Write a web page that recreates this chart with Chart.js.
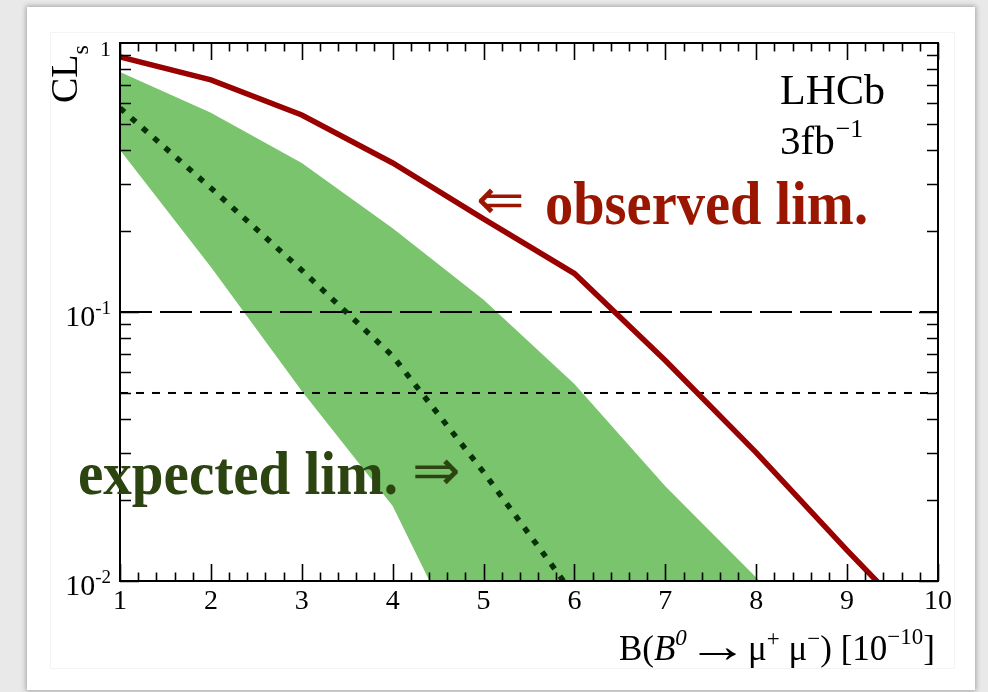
<!DOCTYPE html>
<html>
<head>
<meta charset="utf-8">
<script src="https://cdn.jsdelivr.net/npm/chart.js@4.4.1/dist/chart.umd.min.js"></script>
<style>
	html, body { margin: 0; padding: 0; }
	body { width: 988px; height: 692px; background: #e9e9e9; position: relative; overflow: hidden; }
	#card { position: absolute; left: 27px; top: 7px; width: 948px; height: 683px; background: #fff; box-shadow: 0 0 5px 1px rgba(0, 0, 0, 0.3); }
	#inner { position: absolute; left: 50px; top: 32px; width: 903px; height: 635px; border: 1px solid #f4f4f4; }
	#wrap { position: absolute; left: 0; top: 0; width: 988px; height: 692px; }
</style>
</head>
<body>
<div id="card"></div>
<div id="inner"></div>
<div id="wrap"><canvas id="myChart"></canvas></div>
<script>
// values
const xValues = [1, 2, 3, 4, 5, 6, 7, 8, 9, 10];
const observed = [0.887, 0.729, 0.54, 0.358, 0.222, 0.139, 0.066, 0.030, 0.013, 0.0058];
const expected = [0.573, 0.289, 0.143, 0.0686, 0.0254, 0.0088];
const bandUpper = [0.78, 0.55, 0.358, 0.205, 0.111, 0.054, 0.0225, 0.0103, 0.004];
const bandLower = [0.40, 0.147, 0.0508, 0.019, 0.0039, 0.0015, 0.0006, 0.0003, 0.0001];
const limitLevels = [0.1, 0.05];

const xTickLabels = ["1", "2", "3", "4", "5", "6", "7", "8", "9", "10"];
const yTickValues = [1, 0.1, 0.01];
const yTickBases = ["1", "10", "10"];
const yTickExps = ["", "-1", "-2"];

const SERIF = "'Liberation Serif', 'Times New Roman', serif";

function pts(ys) {
	return ys.map((y, i) => ({ x: xValues[i], y: y }));
}

// draws a row of text pieces, right aligned; sx/sy stretch a piece
function drawPieces(ctx, pieces, xRight, baseline) {
	let total = 0;
	pieces.forEach((p) => {
		ctx.font = p.font;
		p.w = ctx.measureText(p.t).width * (p.sx || 1);
		total += p.w;
	});
	let x = xRight - total;
	ctx.textAlign = "left";
	ctx.textBaseline = "alphabetic";
	pieces.forEach((p) => {
		ctx.font = p.font;
		ctx.save();
		ctx.translate(x, baseline + (p.dy || 0));
		ctx.scale(p.sx || 1, p.sy || 1);
		ctx.fillText(p.t, 0, 0);
		ctx.restore();
		x += p.w;
	});
}

const framePlugin = {
	id: "rootFrame",
	afterDatasetsDraw(chart) {
		const ctx = chart.ctx;
		const a = chart.chartArea;
		const xs = chart.scales.x;
		const ys = chart.scales.y;
		ctx.save();
		ctx.strokeStyle = "#000";
		ctx.lineWidth = 2;
		ctx.strokeRect(a.left, a.top, a.right - a.left, a.bottom - a.top);

		// x ticks, inside, bottom and top
		ctx.lineWidth = 1.6;
		ctx.beginPath();
		for (let k = 0; k <= 45; k++) {
			const v = 1 + k * 0.2;
			const px = Math.round(xs.getPixelForValue(v)) + 0.5;
			const len = k % 5 === 0 ? 17 : 8.5;
			ctx.moveTo(px, a.bottom);
			ctx.lineTo(px, a.bottom - len);
			ctx.moveTo(px, a.top);
			ctx.lineTo(px, a.top + len);
		}
		// y ticks, log decades
		[0.01, 0.1].forEach((dec) => {
			for (let m = 1; m <= 9; m++) {
				const py = Math.round(ys.getPixelForValue(m * dec)) + 0.5;
				const len = m === 1 ? 19 : 11;
				ctx.moveTo(a.left, py);
				ctx.lineTo(a.left + len, py);
				ctx.moveTo(a.right, py);
				ctx.lineTo(a.right - len, py);
			}
		});
		ctx.stroke();
		ctx.restore();
	},
	afterDraw(chart) {
		const ctx = chart.ctx;
		const ys = chart.scales.y;
		ctx.save();
		ctx.fillStyle = "#000";

		// y tick labels with exponents
		yTickValues.forEach((v, i) => {
			const py = ys.getPixelForValue(v);
			if (yTickExps[i] === "") {
				drawPieces(ctx, [{ t: yTickBases[i], font: "22px " + SERIF }], 111, py + 13);
			} else {
				drawPieces(ctx, [
					{ t: yTickBases[i], font: "30px " + SERIF, dy: 0 },
					{ t: yTickExps[i], font: "19px " + SERIF, dy: -12 },
				], 111, py + 14);
			}
		});

		// y title CL_s
		ctx.save();
		ctx.translate(77, 103);
		ctx.rotate(-Math.PI / 2);
		ctx.font = "38px " + SERIF;
		ctx.textAlign = "left";
		ctx.textBaseline = "alphabetic";
		ctx.fillText("CL", 0, 0);
		const wCL = ctx.measureText("CL").width;
		ctx.font = "24px " + SERIF;
		ctx.fillText("s", wCL, 11);
		ctx.restore();

		// x title
		drawPieces(ctx, [
			{ t: "B(", font: "35px " + SERIF },
			{ t: "B", font: "italic 35px " + SERIF },
			{ t: "0", font: "italic 23px " + SERIF, dy: -15 },
			{ t: "\u2192", font: "35px " + SERIF, sx: 1.75, sy: 1.35, dy: 2 },
			{ t: "\u03bc", font: "35px " + SERIF },
			{ t: "+", font: "23px " + SERIF, dy: -14 },
			{ t: " \u03bc", font: "35px " + SERIF },
			{ t: "\u2212", font: "23px " + SERIF, dy: -14 },
			{ t: ") [10", font: "35px " + SERIF },
			{ t: "\u221210", font: "23px " + SERIF, dy: -16 },
			{ t: "]", font: "35px " + SERIF },
		], 935, 660);

		// LHCb label
		ctx.textAlign = "left";
		ctx.textBaseline = "alphabetic";
		ctx.font = "42px " + SERIF;
		ctx.fillText("LHCb", 780, 104);
		ctx.font = "41px " + SERIF;
		ctx.fillText("3fb", 780, 154);
		const w3 = ctx.measureText("3fb").width;
		ctx.font = "26px " + SERIF;
		ctx.fillText("\u22121", 780 + w3 + 1, 137);

		// observed annotation
		ctx.fillStyle = "#9a1600";
		ctx.font = "58px 'DejaVu Sans'";
		ctx.textBaseline = "middle";
		ctx.fillText("\u21d0", 476, 204, 52);
		ctx.textBaseline = "alphabetic";
		ctx.font = "bold 62px " + SERIF;
		ctx.fillText("observed lim.", 545, 224, 323);

		// expected annotation
		ctx.fillStyle = "#2b4410";
		ctx.font = "bold 62px " + SERIF;
		ctx.fillText("expected lim.", 78, 494, 320);
		ctx.font = "58px 'DejaVu Sans'";
		ctx.textBaseline = "middle";
		ctx.fillText("\u21d2", 412, 475, 52);
		ctx.restore();
	},
};

const data = {
	datasets: [
		{
			label: "observed",
			data: pts(observed),
			borderColor: "#990000",
			borderWidth: 5.5,
			pointRadius: 0,
			fill: false,
			clip: 0,
		},
		{
			label: "expected",
			data: pts(expected),
			borderColor: "#063206",
			borderWidth: 5.5,
			borderDash: [6, 9],
			borderCapStyle: "butt",
			pointRadius: 0,
			fill: false,
			clip: 0,
		},
		{
			label: "90%",
			data: [{ x: 1, y: limitLevels[0] }, { x: 10, y: limitLevels[0] }],
			borderColor: "#000",
			borderWidth: 2,
			borderDash: [32, 8],
			pointRadius: 0,
			fill: false,
			clip: 0,
		},
		{
			label: "95%",
			data: [{ x: 1, y: limitLevels[1] }, { x: 10, y: limitLevels[1] }],
			borderColor: "#000",
			borderWidth: 2,
			borderDash: [8, 8],
			pointRadius: 0,
			fill: false,
			clip: 0,
		},
		{
			label: "band upper",
			data: pts(bandUpper),
			borderWidth: 0,
			borderColor: "rgba(0,0,0,0)",
			backgroundColor: "rgb(122, 196, 110)",
			pointRadius: 0,
			fill: "+1",
			clip: 0,
		},
		{
			label: "band lower",
			data: pts(bandLower),
			borderWidth: 0,
			borderColor: "rgba(0,0,0,0)",
			pointRadius: 0,
			fill: false,
			clip: 0,
		},
	],
};

const config = {
	type: "line",
	data: data,
	options: {
		responsive: true,
		maintainAspectRatio: false,
		animation: false,
		layout: {
			padding: { left: 120, top: 43, right: 50, bottom: 71 },
		},
		plugins: {
			legend: { display: false },
			tooltip: { enabled: false },
		},
		scales: {
			x: {
				type: "linear",
				min: 1,
				max: 10,
				ticks: {
					stepSize: 1,
					color: "#000",
					font: { family: SERIF, size: 28 },
					padding: 4,
					maxRotation: 0,
					autoSkip: false,
					callback: (v, i) => xTickLabels[i],
				},
				grid: { display: false, drawTicks: false },
				border: { display: false },
				afterFit: (scale) => {
					scale.height = 40;
				},
			},
			y: {
				type: "logarithmic",
				min: 0.01,
				max: 1,
				display: false,
			},
		},
	},
	plugins: [framePlugin],
};

const myChart = new Chart(document.getElementById("myChart"), config);
</script>
</body>
</html>
